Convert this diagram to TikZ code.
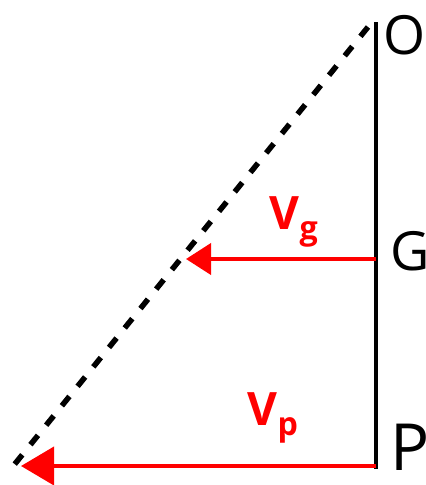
\documentclass[tikz,border=0pt]{standalone}
\usepackage{fontspec}
\setmainfont{Open Sans}
\usetikzlibrary{arrows.meta}
\definecolor{rojo}{HTML}{FF0000}

\begin{document}
\begin{tikzpicture}[x=1pt, y=-1pt,
    punto/.style={font=\fontsize{54}{54}\selectfont, inner sep=0pt, anchor=west},
    veloc/.style={text=rojo, font=\fontsize{46}{46}\selectfont\bfseries, inner sep=0pt},
    flecha/.style={draw=rojo, line width=4pt}]
  \useasboundingbox (0,0) rectangle (426,485);
  % puntos sobre la barra
  \coordinate (o) at (376,22);
  \coordinate (g) at (376,259);
  \coordinate (p) at (376,469);
  \coordinate (ini) at (368,27);
  \coordinate (fin) at (14,465);
  \node[punto] (O) at (383,35) {O};
  \node[punto] (G) at (390,251.5) {G};
  \node[punto, font=\fontsize{65}{65}\selectfont] (P) at (390,447) {P};
  \draw[line width=4.5pt] (o) -- (p);
  \draw[line width=5.5pt, dash pattern=on 12pt off 13pt] (ini) -- (fin);
  \coordinate (tg) at (186,259);
  \coordinate (tp) at (21,466);
  \draw[flecha, -{Triangle[length=25pt, width=31pt]}] (g) -- (tg);
  \draw[flecha, -{Triangle[length=33pt, width=38pt]}] (p |- tp) -- (tp);
  \node[veloc] (Vg) at (294,222) {V\textsubscript{g}};
  \node[veloc] (Vp) at (273,418) {V\textsubscript{p}};
\end{tikzpicture}
\end{document}
